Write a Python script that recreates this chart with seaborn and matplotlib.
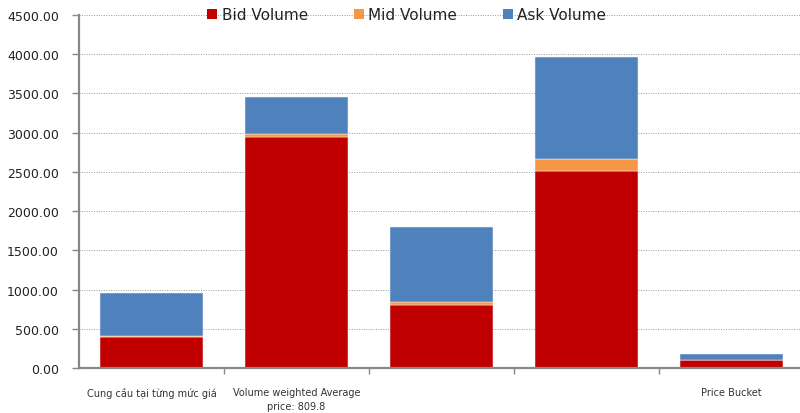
import matplotlib
matplotlib.use("Agg")
import matplotlib.pyplot as plt
import seaborn as sns
import pandas as pd
from matplotlib.ticker import FixedLocator, FormatStrFormatter

# Price buckets and stacked volumes
buckets = ["b1", "b2", "b3", "b4", "b5"]
bucket_labels = ["Cung cầu tại từng mức giá", "Volume weighted Average\nprice: 809.8", "", "", "Price Bucket"]
bid_volume = [395, 2940, 800, 2510, 105]
mid_volume = [12, 40, 45, 150, 0]
ask_volume = [543, 480, 955, 1300, 70]

sns.set_theme(style="white")
plt.rcParams["font.family"] = ["DejaVu Sans"]

df = pd.DataFrame({"bucket": buckets, "bid": bid_volume, "mid": mid_volume, "ask": ask_volume})
df["bid_mid"] = df["bid"] + df["mid"]

fig = plt.figure(figsize=(8.0, 4.14), dpi=100)
ax = fig.add_axes([79 / 800, 45 / 414, 725 / 800, 353 / 414])

bar_w = 0.715
edge = dict(edgecolor="#f4f4f4", linewidth=0.35)
sns.barplot(data=df, x="bucket", y="bid", color="#C00000", width=bar_w,
            label="Bid Volume", ax=ax, saturation=1, **edge)
sns.barplot(data=df, x="bucket", y="mid", bottom=df["bid"], color="#F79646", width=bar_w,
            label="Mid Volume", ax=ax, saturation=1, **edge)
sns.barplot(data=df, x="bucket", y="ask", bottom=df["bid_mid"], color="#4F81BD", width=bar_w,
            label="Ask Volume", ax=ax, saturation=1, **edge)

ax.set_xlim(-0.5, 4.5)
ax.set_ylim(0, 4500)
ax.set_yticks(range(0, 4501, 500))
ax.yaxis.set_major_formatter(FormatStrFormatter("%.2f"))
ax.set_xlabel("")
ax.set_ylabel("")

ax.set_xticks(range(len(buckets)))
ax.set_xticklabels(bucket_labels, fontsize=7, color="#333333", linespacing=1.45)
ax.xaxis.set_minor_locator(FixedLocator([0.5, 1.5, 2.5, 3.5]))
ax.tick_params(axis="x", which="major", length=0, pad=14)
ax.tick_params(axis="x", which="minor", length=4, width=1, color="#888888", direction="out", bottom=True)
ax.tick_params(axis="y", which="major", length=5, width=1, color="#888888", direction="out",
               left=True, labelsize=9, labelcolor="#222222", pad=9.5)

ax.grid(axis="y", linestyle=(0, (1, 1.5)), color="#999999", linewidth=0.7)
ax.grid(axis="x", visible=False)
ax.set_axisbelow(True)

for side in ["top", "right"]:
    ax.spines[side].set_visible(False)
for side in ["left", "bottom"]:
    ax.spines[side].set_color("#888888")
    ax.spines[side].set_linewidth(1.6)
ax.spines["left"].set_zorder(3)

leg = ax.legend(loc="center", bbox_to_anchor=(0.452, 1.0), ncol=3, frameon=False,
                fontsize=11, handlelength=0.65, handleheight=0.65, handletextpad=0.3,
                columnspacing=3.0, borderaxespad=0)
for h in leg.legend_handles:
    h.set_edgecolor("none")
for t in leg.get_texts():
    t.set_color("#222222")

fig.savefig("out.png", dpi=100, facecolor="white")
